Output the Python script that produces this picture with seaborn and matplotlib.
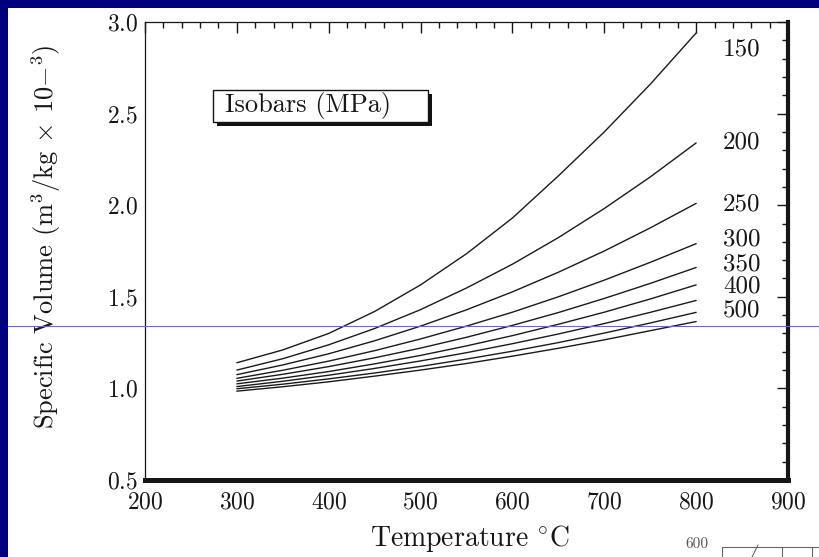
import numpy as np
import pandas as pd
import matplotlib
matplotlib.use("Agg")
import matplotlib.pyplot as plt
from matplotlib.patches import Rectangle
from matplotlib.lines import Line2D
from matplotlib.ticker import MultipleLocator
import seaborn as sns

# Temperature grid (°C) and isobar pressures (MPa)
temperature = [300, 350, 400, 450, 500, 550, 600, 650, 700, 750, 800]
pressures = [150, 200, 250, 300, 350, 400, 450, 500, 550]

# Specific volume (m^3/kg x 10^-3) along each isobar
v_150 = [1.140, 1.210, 1.300, 1.420, 1.565, 1.735, 1.930, 2.160, 2.400, 2.660, 2.940]
v_200 = [1.100, 1.162, 1.238, 1.327, 1.430, 1.548, 1.678, 1.823, 1.982, 2.154, 2.340]
v_250 = [1.075, 1.128, 1.189, 1.260, 1.340, 1.429, 1.527, 1.634, 1.750, 1.876, 2.010]
v_300 = [1.055, 1.099, 1.149, 1.206, 1.270, 1.340, 1.416, 1.500, 1.591, 1.688, 1.790]
v_350 = [1.040, 1.077, 1.119, 1.167, 1.220, 1.279, 1.344, 1.414, 1.491, 1.573, 1.660]
v_400 = [1.025, 1.056, 1.092, 1.134, 1.180, 1.232, 1.288, 1.350, 1.416, 1.488, 1.565]
v_450 = [1.010, 1.039, 1.072, 1.109, 1.150, 1.195, 1.244, 1.297, 1.354, 1.415, 1.480]
v_500 = [0.998, 1.023, 1.052, 1.084, 1.120, 1.160, 1.203, 1.250, 1.302, 1.357, 1.415]
v_550 = [0.985, 1.009, 1.036, 1.067, 1.100, 1.136, 1.176, 1.219, 1.265, 1.315, 1.365]

isobars = [v_150, v_200, v_250, v_300, v_350, v_400, v_450, v_500, v_550]

# Isobars that carry a pressure tag at the right end
tagged = ["150", "200", "250", "300", "350", "400", "500"]
tag_y = [2.85, 2.34, 2.005, 1.815, 1.675, 1.555, 1.425]

df = pd.concat(
    [pd.DataFrame({"T": temperature, "v": vals, "P": p}) for p, vals in zip(pressures, isobars)],
    ignore_index=True,
)

sns.set_theme(style="white")
plt.rcParams["font.family"] = ["cmr10", "DejaVu Serif"]
plt.rcParams["mathtext.fontset"] = "cm"
plt.rcParams["axes.formatter.use_mathtext"] = True

INK = "#161616"
W, H = 819, 557
fig = plt.figure(figsize=(W / 100, H / 100), dpi=100, facecolor="#00007e")

# white page area of the slide
fig.patches.append(Rectangle((8 / W, 0), 1 - 8 / W, (H - 8) / H, transform=fig.transFigure,
                             facecolor="white", edgecolor="none", zorder=-5))

ax = fig.add_axes([145 / W, (H - 480) / H, (788 - 145) / W, (480 - 22) / H])
ax.set_facecolor("white")

sns.lineplot(data=df, x="T", y="v", units="P", estimator=None, color="#1a1a1a",
             linewidth=1.0, ax=ax, legend=False)

ax.set_xlim(200, 900)
ax.set_ylim(0.5, 3.0)
ax.xaxis.set_major_locator(MultipleLocator(100))
ax.xaxis.set_minor_locator(MultipleLocator(20))
ax.yaxis.set_major_locator(MultipleLocator(0.5))
ax.yaxis.set_minor_locator(MultipleLocator(0.1))
ax.tick_params(which="both", direction="in", top=True, right=True, color=INK,
               width=1.0, labelsize=17, labelcolor=INK)
ax.tick_params(which="major", length=8)
ax.tick_params(which="minor", length=4.5)
ax.tick_params(axis="x", pad=8)
ax.tick_params(axis="y", pad=5)

for side, lw in {"left": 0.9, "top": 0.9, "right": 3.0, "bottom": 3.6}.items():
    ax.spines[side].set_visible(True)
    ax.spines[side].set_linewidth(lw)
    ax.spines[side].set_color(INK)

ax.set_xlabel(r"Temperature $^{\circ}$C", fontsize=20, color=INK)
ax.xaxis.set_label_coords(0.505, -0.094)
ax.set_ylabel(r"Specific Volume (m$^3$/kg $\times$ 10$-^{3}$)", fontsize=19, color=INK)
ax.yaxis.set_label_coords(-0.1275, 0.531)

for name, y in zip(tagged, tag_y):
    ax.text(829, y, name, ha="left", va="center", fontsize=18, color=INK)

# "Isobars (MPa)" caption box with drop shadow
bx0, bx1, by0, by1 = 0.106, 0.440, 0.782, 0.852
sh = 4 / 643
ax.add_patch(Rectangle((bx0 + sh, by0 - 4 / 458), bx1 - bx0, by1 - by0, transform=ax.transAxes,
                       facecolor="#111111", edgecolor="none", zorder=4))
ax.add_patch(Rectangle((bx0, by0), bx1 - bx0, by1 - by0, transform=ax.transAxes,
                       facecolor="white", edgecolor=INK, linewidth=1.0, zorder=5))
ax.text(bx0 + 0.018, (by0 + by1) / 2, "Isobars (MPa)", transform=ax.transAxes,
        ha="left", va="center", fontsize=19, color=INK, zorder=6)

# thin rule across the slide
fig.add_artist(Line2D([8 / W, 1], [1 - 326 / H, 1 - 326 / H], transform=fig.transFigure,
                      color="#6a6ac0", linewidth=0.8, zorder=10))

# edge of the neighbouring chart peeking in at the bottom corner
fig.text(697 / W, 1 - 544 / H, "600", ha="center", va="center", fontsize=11, color="#555555")
fig.add_artist(Line2D([722 / W, 1], [1 - 547 / H, 1 - 547 / H], transform=fig.transFigure,
                      color="#666666", linewidth=0.8))
for xp in (722, 782, 812):
    fig.add_artist(Line2D([xp / W, xp / W], [1 - 547 / H, 0], transform=fig.transFigure,
                          color="#666666", linewidth=0.8))
fig.add_artist(Line2D([752 / W, 758 / W], [0, 1 - 545 / H], transform=fig.transFigure,
                      color="#666666", linewidth=0.8))

fig.savefig("out.png", dpi=100, facecolor=fig.get_facecolor())
